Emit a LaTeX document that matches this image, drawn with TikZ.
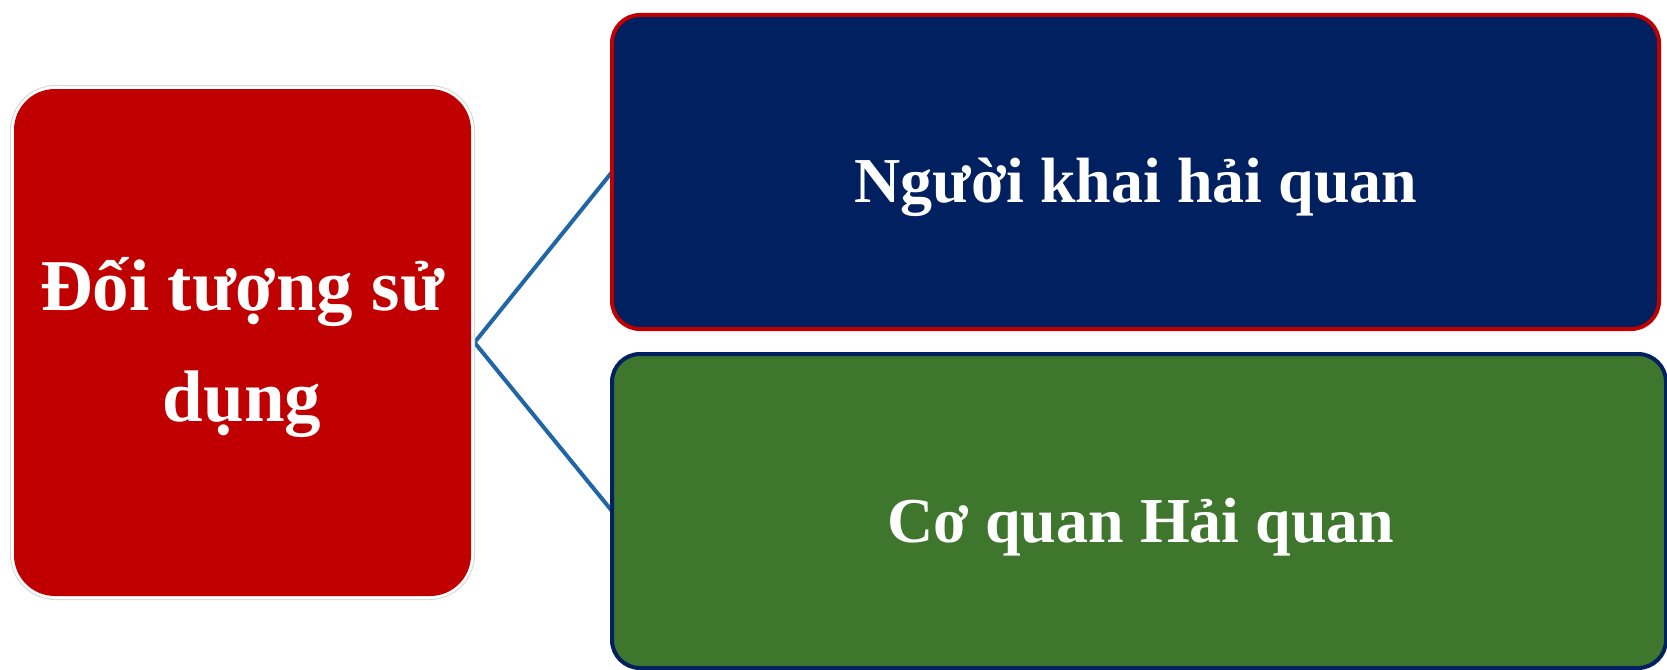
\documentclass[tikz,border=0pt]{standalone}
\usepackage{fontspec}
\setmainfont{Liberation Serif}
\usetikzlibrary{backgrounds}
\definecolor{boxred}{HTML}{C00000}
\definecolor{boxnavy}{HTML}{002060}
\definecolor{boxgreen}{HTML}{3F762E}
\definecolor{linkblue}{HTML}{1F65A8}
\definecolor{edgegray}{HTML}{D9D9D9}
\begin{document}
\begin{tikzpicture}[x=1pt,y=-1pt,
  box/.style={rectangle, inner sep=0pt, outer sep=0pt, anchor=north west},
  conn/.style={draw=linkblue, line width=4pt},
  bigtext/.style={text=white, inner sep=0pt, anchor=base, font=\fontsize{73}{88}\selectfont\bfseries},
  midtext/.style={text=white, inner sep=0pt, anchor=base, font=\fontsize{64}{77}\selectfont\bfseries}]
\useasboundingbox (0,0) rectangle (1667,669);
% left box
\node[box, rounded corners=45pt, fill=white, draw=edgegray, line width=1pt,
      minimum width=464pt, minimum height=514pt] (objout) at (10.5,85.5) {};
\node[box, rounded corners=41pt, fill=boxred,
      minimum width=457pt, minimum height=507pt] (obj) at (14,89) {};
% right boxes
\node[box, rounded corners=28pt, fill=boxnavy, draw=boxred, line width=4pt,
      minimum width=1047pt, minimum height=314pt] (decl) at (612,15) {};
\node[box, rounded corners=28pt, fill=boxgreen, draw=boxnavy, line width=4pt,
      minimum width=1054pt, minimum height=314pt] (cust) at (612,354) {};
% texts
\node[bigtext] (t1a) at (242,310) {Đối tượng sử};
\node[bigtext] (t1b) at (242,421) {dụng};
\node[midtext] (t2) at (1136,202) {Người khai hải quan};
\node[midtext] (t3) at (1141,542) {Cơ quan Hải quan};
% connectors
\begin{scope}[on background layer]
\draw[conn] (objout.east) -- (decl.west);
\draw[conn] (objout.east) -- (cust.west);
\end{scope}
\end{tikzpicture}
\end{document}
